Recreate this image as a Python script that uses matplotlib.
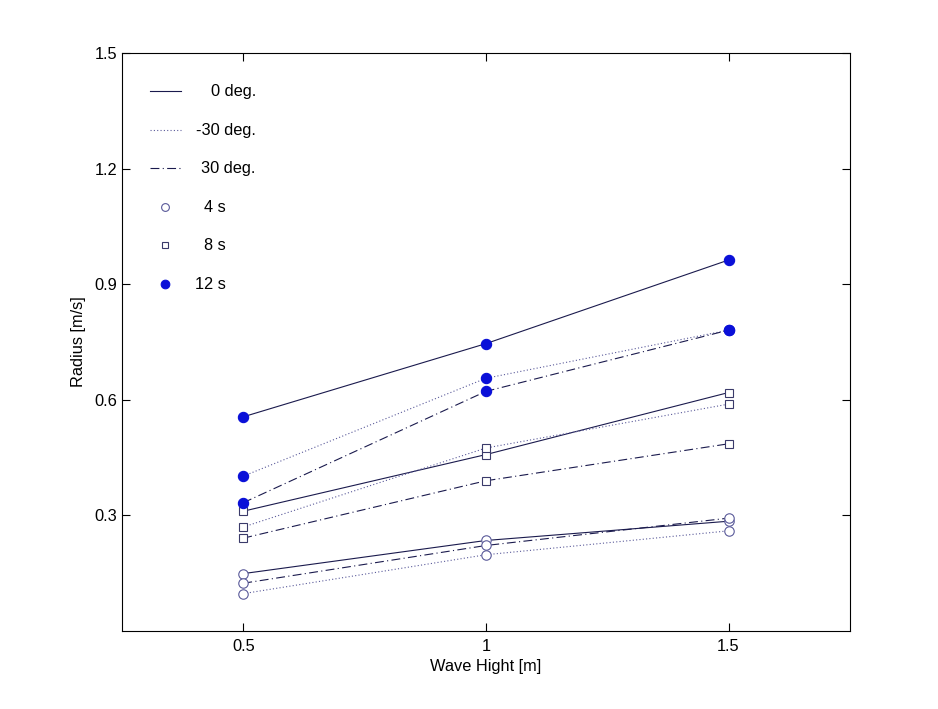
import matplotlib
matplotlib.use("Agg")
import matplotlib.pyplot as plt
from matplotlib.lines import Line2D

plt.rcParams['font.family'] = ['Liberation Sans', 'DejaVu Sans']

wave_height = [0.5, 1.0, 1.5]

# Radius values [m/s] per period (4 s, 8 s, 12 s) and heading (0, -30, 30 deg)
r4_0 = [0.149, 0.235, 0.285]
r4_m30 = [0.097, 0.198, 0.260]
r4_30 = [0.124, 0.222, 0.293]
r8_0 = [0.311, 0.458, 0.619]
r8_m30 = [0.270, 0.475, 0.589]
r8_30 = [0.241, 0.390, 0.486]
r12_0 = [0.556, 0.746, 0.963]
r12_m30 = [0.402, 0.656, 0.781]
r12_30 = [0.333, 0.622, 0.781]

x_ticks = [0.5, 1, 1.5]
x_tick_labels = ['0.5', '1', '1.5']
y_ticks = [0.3, 0.6, 0.9, 1.2, 1.5]
y_tick_labels = ['0.3', '0.6', '0.9', '1.2', '1.5']

heading_labels = ['0 deg.', '-30 deg.', '30 deg.']
period_labels = ['4 s', '8 s', '12 s']

FS = 11.8

fig = plt.figure(figsize=(9.38, 7.09), dpi=100)
ax = fig.add_axes([0.130, 0.110, 0.776, 0.815])

line_col = '#1a1a4d'
dot_col = '#5a5a9a'
styles = {
    '0': dict(ls='-', color=line_col, lw=0.8),
    'm30': dict(ls=(0, (1, 2)), color=dot_col, lw=0.8),
    '30': dict(ls=(0, (8, 3, 1, 3)), color=line_col, lw=0.8),
}
m4 = dict(marker='o', ms=6.8, mfc='white', mec='#5a5a9a', mew=0.8)
m8 = dict(marker='s', ms=6.0, mfc='white', mec='#3a3a6a', mew=0.8)
m12 = dict(marker='o', ms=7.4, mfc='#0a10d8', mec='#0a10d8', mew=0.8)

for ys, st, mk in [
    (r4_0, '0', m4), (r4_m30, 'm30', m4), (r4_30, '30', m4),
    (r8_0, '0', m8), (r8_m30, 'm30', m8), (r8_30, '30', m8),
    (r12_0, '0', m12), (r12_m30, 'm30', m12), (r12_30, '30', m12),
]:
    ax.plot(wave_height, ys, **styles[st], **mk)

ax.set_xlim(0.25, 1.75)
ax.set_ylim(0, 1.5)
ax.set_xticks(x_ticks)
ax.set_xticklabels(x_tick_labels)
ax.set_yticks(y_ticks)
ax.set_yticklabels(y_tick_labels)
ax.tick_params(direction='in', length=6, width=0.8, top=True, right=True,
               labelsize=FS)
ax.tick_params(axis='x', pad=6)
ax.tick_params(axis='y', pad=3.5)
for s in ax.spines.values():
    s.set_linewidth(0.8)
ax.set_xlabel('Wave Hight [m]', fontsize=FS, labelpad=3)
ax.set_ylabel('Radius [m/s]', fontsize=FS, labelpad=6)

# manual legend (axes coordinates)
leg_y = [(631 - py) / 578 for py in [91, 130, 168, 207, 245, 284]]
for yy, st, lab in zip(leg_y[:3], ['0', 'm30', '30'], heading_labels):
    ax.add_line(Line2D([0.0385, 0.081], [yy, yy], transform=ax.transAxes, **styles[st]))
    ax.text(0.184, yy, lab, transform=ax.transAxes, ha='right', va='center', fontsize=FS)
for yy, mk, lab in zip(leg_y[3:], [m4, m8, m12], period_labels):
    mk2 = dict(mk)
    mk2['ms'] = mk['ms'] - 1.2
    ax.add_line(Line2D([0.059], [yy], transform=ax.transAxes, ls='none', **mk2))
    ax.text(0.143, yy, lab, transform=ax.transAxes, ha='right', va='center', fontsize=FS)

fig.savefig('out.png', dpi=100)
